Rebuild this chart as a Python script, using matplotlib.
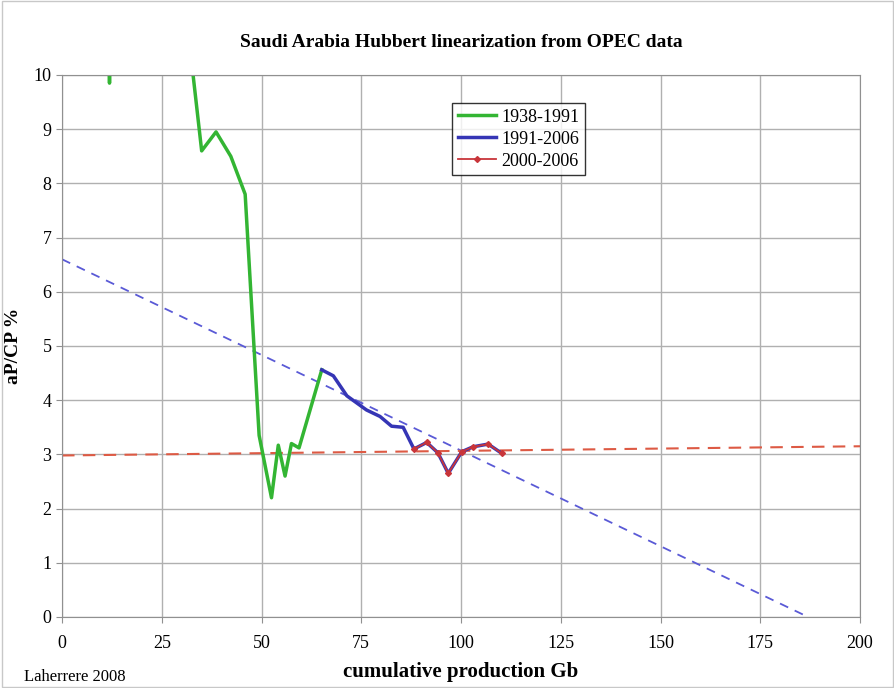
import matplotlib
matplotlib.use("Agg")
from matplotlib import pyplot as plt
from matplotlib.patches import Rectangle

# data
green_x = [5, 11.6, 11.9, 12.2, 20, 29, 35, 38.6, 42.3, 45.9, 49.4, 52.5, 54.2, 55.9, 57.5, 59.4, 65.1]
green_y = [30, 11.0, 9.85, 11.0, 14, 12.5, 8.6, 8.95, 8.5, 7.8, 3.35, 2.2, 3.17, 2.6, 3.2, 3.12, 4.56]

blue_x = [65.1, 68, 71.4, 76.3, 79.7, 82.6, 85.5, 88.2, 91.4, 94.2, 96.8, 100.2, 103, 106.8, 110.2]
blue_y = [4.56, 4.45, 4.08, 3.82, 3.7, 3.52, 3.5, 3.1, 3.22, 3.03, 2.65, 3.05, 3.14, 3.19, 3.02]

red_x = [88.2, 91.4, 94.2, 96.8, 100.2, 103, 106.8, 110.2]
red_y = [3.1, 3.22, 3.03, 2.65, 3.05, 3.14, 3.19, 3.02]

fit_blue_x = [0, 187]
fit_blue_y = [6.6, 0]
fit_red_x = [0, 200]
fit_red_y = [2.98, 3.15]

plt.rcParams['font.family'] = ['Liberation Serif', 'DejaVu Serif']

fig = plt.figure(figsize=(8.95, 6.88), dpi=100)
ax = fig.add_axes([0.0693, 0.1032, 0.8916, 0.7878])

ax.plot(fit_blue_x, fit_blue_y, color='#5a5ad6', lw=1.3, dashes=(5, 4))
ax.plot(fit_red_x, fit_red_y, color='#dd5a44', lw=1.5, dashes=(6, 4))
ax.plot(green_x, green_y, color='#33b533', lw=2.5, label='1938-1991')
ax.plot(blue_x, blue_y, color='#3535b5', lw=2.5, label='1991-2006')
ax.plot(red_x, red_y, color='#c8353a', lw=1.3, marker='D', ms=3, label='2000-2006')

ax.set_xlim(0, 200)
ax.set_ylim(0, 10)
ax.set_xticks(range(0, 201, 25))
ax.set_yticks(range(0, 11))
ax.grid(True, color='#b0b0b0', lw=1)
ax.set_axisbelow(True)
for s in ax.spines.values():
    s.set_color('#909090')
ax.tick_params(colors='#909090', labelcolor='black', labelsize=13, length=4)
ax.tick_params(axis='x', pad=9)

ax.set_title('Saudi Arabia Hubbert linearization from OPEC data', fontsize=14,
             fontweight='bold', pad=20)
ax.set_ylabel('aP/CP %', fontsize=14, fontweight='bold', labelpad=8)
ax.set_xlabel('cumulative production Gb', fontsize=15, fontweight='bold', labelpad=7)

leg = ax.legend(loc='upper left', bbox_to_anchor=(0.489, 0.948), fontsize=13,
                frameon=True, fancybox=False, handlelength=2.1, handletextpad=0.3,
                borderpad=0.3, labelspacing=0.28, borderaxespad=0)
leg.get_frame().set_edgecolor('black')
leg.get_frame().set_linewidth(1)

fig.text(0.027, 0.01, 'Laherrere 2008', fontsize=12)
fig.patches.append(Rectangle((0.002, 0.002), 0.996, 0.996, transform=fig.transFigure,
                             fill=False, edgecolor='#c8c8c8', lw=1))

plt.savefig('out.png', dpi=100)
